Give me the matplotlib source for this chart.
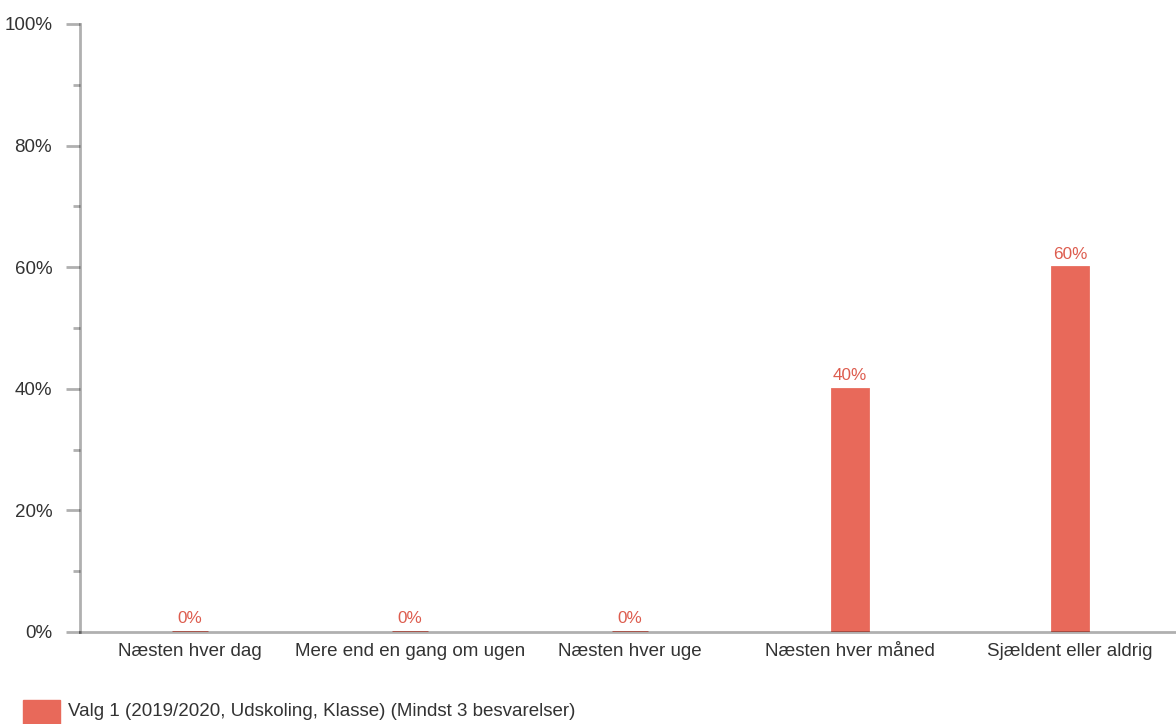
import matplotlib
matplotlib.use('Agg')
import matplotlib.pyplot as plt
from matplotlib.patches import Rectangle

plt.rcParams['font.family'] = ['Liberation Sans', 'DejaVu Sans']

# data
categories = ['Næsten hver dag', 'Mere end en gang om ugen', 'Næsten hver uge',
              'Næsten hver måned', 'Sjældent eller aldrig']
values = [0, 0, 0, 40, 60]
series_name = 'Valg 1 (2019/2020, Udskoling, Klasse) (Mindst 3 besvarelser)'
yticks = [0, 20, 40, 60, 80, 100]

bar_color = '#e8695a'
text_color = '#333333'
axis_color = (0, 0, 0, 0.31)

W, H = 1176, 724
fig = plt.figure(figsize=(W / 100, H / 100), dpi=100)
ax = fig.add_axes([80 / W, (H - 632) / H, 1100 / W, 608 / H])

x = list(range(len(categories)))
# edge keeps zero-height bars visible as a line on the baseline
ax.bar(x, values, width=0.164, color=bar_color, edgecolor=bar_color,
       linewidth=2, zorder=2)
for xi, v in zip(x, values):
    ax.annotate(f'{v}%', (xi, v), xytext=(0, 4), textcoords='offset points',
                ha='center', va='bottom', fontsize=12.3, color='#dd5c4e')

ax.set_xlim(-0.5, len(categories) - 0.5)
ax.set_ylim(0, 100)
ax.set_xticks(x)
ax.set_xticklabels(categories, fontsize=13.5, color=text_color)
ax.set_yticks(yticks)
ax.set_yticklabels([f'{t}%' for t in yticks], fontsize=13.5, color=text_color)
ax.set_yticks([10, 30, 50, 70, 90], minor=True)

ax.tick_params(axis='x', length=0, pad=8)
ax.tick_params(axis='y', which='major', length=10, width=2, color=axis_color, pad=10)
ax.tick_params(axis='y', which='minor', length=5, width=2, color=axis_color)

for s in ['top', 'right']:
    ax.spines[s].set_visible(False)
for s in ['left', 'bottom']:
    ax.spines[s].set_color(axis_color)
    ax.spines[s].set_linewidth(2)
    ax.spines[s].set_zorder(3)
ax.set_facecolor('none')

# legend
fig.patches.append(Rectangle((23 / W, 0), 37 / W, 24 / H, transform=fig.transFigure,
                             color=bar_color))
fig.text(68 / W, (H - 712) / H, series_name, fontsize=13.5, color=text_color, va='center')

fig.savefig('out.png', dpi=100)
